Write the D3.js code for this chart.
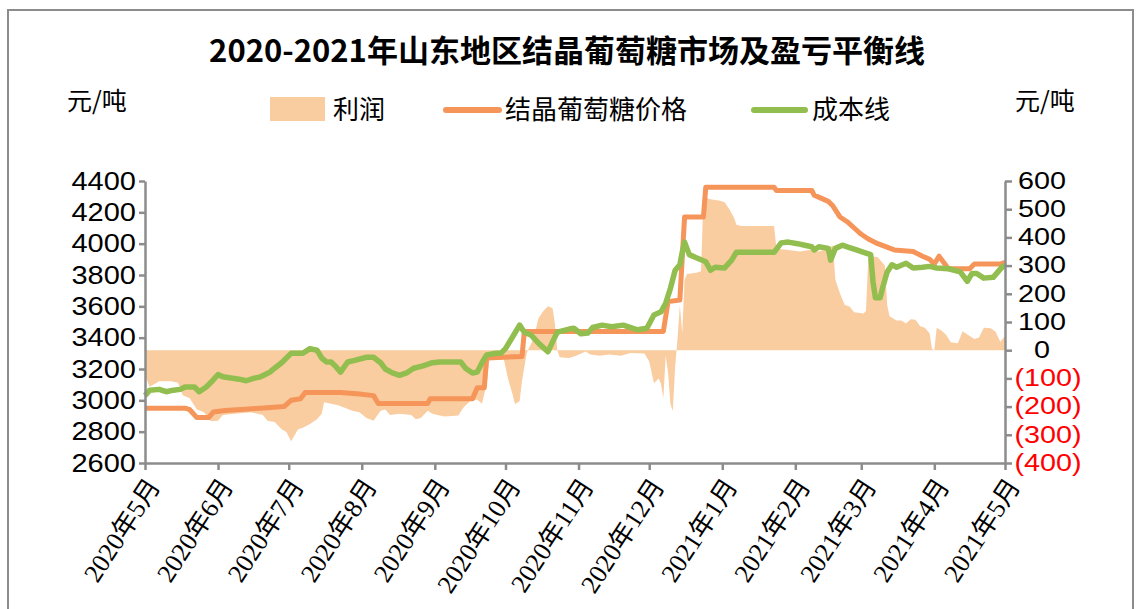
<!DOCTYPE html>
<html>
<head>
<meta charset="utf-8">
<script src="https://cdn.jsdelivr.net/npm/d3@7"></script>
<style>
  body { margin: 0; background: #fff; }
  svg { display: block; }
</style>
</head>
<body>
<svg id="canvas"></svg>
<script>
const canvas = d3.select('#canvas');
const width = 1140;
const height = 609;

const titleText = '2020-2021年山东地区结晶葡萄糖市场及盈亏平衡线';
const unitText = '元/吨';
const legendLabels = ['利润', '结晶葡萄糖价格', '成本线'];
const leftTicks = [2600, 2800, 3000, 3200, 3400, 3600, 3800, 4000, 4200, 4400];
const rightTicks = [-400, -300, -200, -100, 0, 100, 200, 300, 400, 500, 600];
const monthTicks = ['2020-05-01', '2020-06-01', '2020-07-01', '2020-08-01', '2020-09-01', '2020-10-01',
  '2020-11-01', '2020-12-01', '2021-01-01', '2021-02-01', '2021-03-01', '2021-04-01', '2021-05-01'];

// 结晶葡萄糖价格 (元/吨, left axis)
const price = [
  ['2020-05-01', 2950], ['2020-05-18', 2950], ['2020-05-20', 2940], ['2020-05-23', 2890], ['2020-05-28', 2890],
  ['2020-05-30', 2925], ['2020-06-04', 2935], ['2020-06-19', 2950], ['2020-06-29', 2960], ['2020-07-02', 3000],
  ['2020-07-06', 3010], ['2020-07-08', 3050], ['2020-07-23', 3050], ['2020-07-31', 3040], ['2020-08-06', 3030],
  ['2020-08-08', 2980], ['2020-08-29', 2980], ['2020-08-30', 3010], ['2020-09-17', 3010], ['2020-09-19', 3080],
  ['2020-09-22', 3080], ['2020-09-23', 3270], ['2020-10-08', 3280], ['2020-10-09', 3440], ['2020-12-07', 3440],
  ['2020-12-09', 3630], ['2020-12-14', 3640], ['2020-12-16', 4170], ['2020-12-24', 4170], ['2020-12-25', 4360],
  ['2021-01-23', 4360], ['2021-01-24', 4340], ['2021-02-08', 4340], ['2021-02-09', 4310], ['2021-02-15', 4270],
  ['2021-02-17', 4240], ['2021-02-20', 4170], ['2021-02-23', 4140], ['2021-02-26', 4100], ['2021-03-01', 4060],
  ['2021-03-04', 4030], ['2021-03-08', 4000], ['2021-03-15', 3960], ['2021-03-23', 3950], ['2021-03-27', 3920],
  ['2021-03-30', 3900], ['2021-04-01', 3870], ['2021-04-03', 3920], ['2021-04-05', 3880], ['2021-04-07', 3840],
  ['2021-04-16', 3840], ['2021-04-18', 3870], ['2021-04-29', 3870], ['2021-05-01', 3880]
];

// 成本线 (元/吨, left axis)
const cost = [
  ['2020-05-01', 3030], ['2020-05-03', 3065], ['2020-05-07', 3070], ['2020-05-10', 3055], ['2020-05-13', 3065],
  ['2020-05-16', 3070], ['2020-05-18', 3085], ['2020-05-22', 3085], ['2020-05-24', 3055], ['2020-05-27', 3085],
  ['2020-05-29', 3115], ['2020-06-01', 3165], ['2020-06-03', 3150], ['2020-06-10', 3135], ['2020-06-13', 3125],
  ['2020-06-16', 3140], ['2020-06-19', 3150], ['2020-06-21', 3165], ['2020-06-23', 3180], ['2020-06-25', 3205],
  ['2020-06-28', 3240], ['2020-07-02', 3300], ['2020-07-07', 3300], ['2020-07-10', 3330], ['2020-07-13', 3320],
  ['2020-07-15', 3270], ['2020-07-17', 3245], ['2020-07-19', 3245], ['2020-07-21', 3215], ['2020-07-23', 3180],
  ['2020-07-26', 3245], ['2020-07-29', 3255], ['2020-08-03', 3275], ['2020-08-06', 3275], ['2020-08-09', 3240],
  ['2020-08-11', 3200], ['2020-08-14', 3175], ['2020-08-17', 3160], ['2020-08-20', 3175], ['2020-08-23', 3205],
  ['2020-08-27', 3220], ['2020-08-31', 3240], ['2020-09-03', 3245], ['2020-09-12', 3245], ['2020-09-14', 3205],
  ['2020-09-17', 3175], ['2020-09-19', 3180], ['2020-09-21', 3240], ['2020-09-23', 3290], ['2020-09-27', 3300],
  ['2020-09-29', 3300], ['2020-10-01', 3330], ['2020-10-05', 3430], ['2020-10-07', 3480], ['2020-10-09', 3435],
  ['2020-10-12', 3415], ['2020-10-15', 3365], ['2020-10-19', 3310], ['2020-10-22', 3405], ['2020-10-23', 3435],
  ['2020-10-28', 3455], ['2020-10-30', 3460], ['2020-11-02', 3425], ['2020-11-05', 3430], ['2020-11-07', 3465],
  ['2020-11-11', 3480], ['2020-11-15', 3470], ['2020-11-20', 3480], ['2020-11-26', 3450], ['2020-11-30', 3460],
  ['2020-12-03', 3545], ['2020-12-06', 3565], ['2020-12-08', 3620], ['2020-12-10', 3715], ['2020-12-12', 3830],
  ['2020-12-14', 3865], ['2020-12-15', 3945], ['2020-12-16', 4010], ['2020-12-18', 3930], ['2020-12-21', 3910],
  ['2020-12-25', 3885], ['2020-12-27', 3830], ['2020-12-29', 3850], ['2021-01-02', 3845], ['2021-01-05', 3895],
  ['2021-01-07', 3945], ['2021-01-23', 3945], ['2021-01-26', 4005], ['2021-01-29', 4010], ['2021-02-02', 4000],
  ['2021-02-05', 3990], ['2021-02-08', 3980], ['2021-02-09', 3960], ['2021-02-11', 3980], ['2021-02-15', 3970],
  ['2021-02-16', 3895], ['2021-02-18', 3970], ['2021-02-21', 3990], ['2021-02-23', 3980], ['2021-02-26', 3965],
  ['2021-03-03', 3940], ['2021-03-05', 3930], ['2021-03-06', 3755], ['2021-03-07', 3655], ['2021-03-09', 3655],
  ['2021-03-10', 3715], ['2021-03-12', 3820], ['2021-03-14', 3865], ['2021-03-16', 3850], ['2021-03-20', 3875],
  ['2021-03-23', 3845], ['2021-03-27', 3850], ['2021-03-30', 3855], ['2021-04-02', 3845], ['2021-04-07', 3840],
  ['2021-04-12', 3820], ['2021-04-15', 3760], ['2021-04-17', 3810], ['2021-04-19', 3810], ['2021-04-22', 3780],
  ['2021-04-26', 3785], ['2021-04-28', 3820], ['2021-04-30', 3855], ['2021-05-01', 3850]
];

// 利润 (元/吨, right axis)
const profit = [
  ['2020-05-01', -90], ['2020-05-03', -130], ['2020-05-07', -110], ['2020-05-12', -110], ['2020-05-15', -115],
  ['2020-05-17', -160], ['2020-05-20', -170], ['2020-05-23', -210], ['2020-05-26', -220], ['2020-05-29', -252],
  ['2020-06-01', -250], ['2020-06-03', -230], ['2020-06-08', -225], ['2020-06-15', -220], ['2020-06-20', -230],
  ['2020-06-22', -250], ['2020-06-25', -255], ['2020-06-28', -280], ['2020-06-30', -290], ['2020-07-02', -323],
  ['2020-07-05', -280], ['2020-07-07', -275], ['2020-07-10', -262], ['2020-07-13', -245], ['2020-07-15', -225],
  ['2020-07-16', -185], ['2020-07-19', -190], ['2020-07-22', -195], ['2020-07-25', -205], ['2020-07-28', -215],
  ['2020-07-31', -220], ['2020-08-03', -240], ['2020-08-06', -250], ['2020-08-09', -215], ['2020-08-11', -210],
  ['2020-08-13', -230], ['2020-08-17', -225], ['2020-08-22', -230], ['2020-08-24', -245], ['2020-08-26', -240],
  ['2020-08-29', -215], ['2020-08-31', -225], ['2020-09-05', -235], ['2020-09-11', -232], ['2020-09-13', -205],
  ['2020-09-16', -180], ['2020-09-19', -175], ['2020-09-21', -190], ['2020-09-23', -120], ['2020-09-24', -40],
  ['2020-09-27', -5], ['2020-09-30', -20], ['2020-10-02', -99], ['2020-10-04', -156], ['2020-10-05', -191],
  ['2020-10-07', -181], ['2020-10-08', -110], ['2020-10-10', -10], ['2020-10-13', 43], ['2020-10-15', 113],
  ['2020-10-17', 138], ['2020-10-19', 156], ['2020-10-21', 149], ['2020-10-22', 92], ['2020-10-23', 0],
  ['2020-10-24', -25], ['2020-10-28', -28], ['2020-10-31', -20], ['2020-11-04', -5], ['2020-11-06', -15],
  ['2020-11-10', -20], ['2020-11-14', -15], ['2020-11-19', -20], ['2020-11-23', -10], ['2020-11-29', -12],
  ['2020-12-01', -40], ['2020-12-03', -117], ['2020-12-05', -100], ['2020-12-06', -120], ['2020-12-07', -170],
  ['2020-12-08', -20], ['2020-12-09', -80], ['2020-12-10', -190], ['2020-12-11', -216], ['2020-12-12', -60],
  ['2020-12-13', 40], ['2020-12-14', 160], ['2020-12-15', 60], ['2020-12-16', 250], ['2020-12-17', 270],
  ['2020-12-21', 275], ['2020-12-23', 280], ['2020-12-24', 542], ['2020-12-27', 535], ['2020-12-31', 530],
  ['2021-01-02', 525], ['2021-01-04', 500], ['2021-01-06', 470], ['2021-01-07', 445], ['2021-01-09', 440],
  ['2021-01-23', 440], ['2021-01-24', 360], ['2021-01-29', 355], ['2021-02-03', 350], ['2021-02-07', 355],
  ['2021-02-11', 350], ['2021-02-15', 360], ['2021-02-17', 372], ['2021-02-18', 250], ['2021-02-20', 200],
  ['2021-02-22', 160], ['2021-02-24', 155], ['2021-02-26', 135], ['2021-03-02', 130], ['2021-03-03', 140],
  ['2021-03-04', 335], ['2021-03-08', 330], ['2021-03-11', 300], ['2021-03-12', 160], ['2021-03-13', 120],
  ['2021-03-16', 105], ['2021-03-18', 105], ['2021-03-20', 95], ['2021-03-22', 110], ['2021-03-24', 108],
  ['2021-03-26', 85], ['2021-03-28', 80], ['2021-03-30', 60], ['2021-03-31', 5], ['2021-04-01', 0],
  ['2021-04-02', 80], ['2021-04-04', 70], ['2021-04-06', 55], ['2021-04-08', 28], ['2021-04-11', 25],
  ['2021-04-13', 67], ['2021-04-16', 50], ['2021-04-18', 40], ['2021-04-20', 45], ['2021-04-22', 80],
  ['2021-04-25', 78], ['2021-04-27', 65], ['2021-04-29', 30], ['2021-05-01', 50]
];

const parse = d3.timeParse('%Y-%m-%d');
const toPoints = (arr) => arr.map((d) => ({ date: parse(d[0]), v: d[1] }));

const colors = { profit: '#F9CDA0', price: '#F5955A', cost: '#92BE4F', axis: '#8C8C8C' };
const cjk = '"Noto Sans CJK SC", "Noto Sans", sans-serif';
const numFont = '"Liberation Sans", Arial, sans-serif';

canvas.attr('width', width).attr('height', height);

// outer frame
canvas.append('rect')
  .attr('x', 8).attr('y', 10)
  .attr('width', 1125).attr('height', 620)
  .attr('fill', '#fff')
  .attr('stroke', '#8C8C8C')
  .attr('stroke-width', 2);

// scales
const x = d3.scaleTime().domain([parse('2020-05-01'), parse('2021-05-01')]).range([145, 1005]);
const yLeft = d3.scaleLinear().domain([2600, 4400]).range([463, 181]);
const yRight = d3.scaleLinear().domain([-400, 600]).range([463, 181]);

// profit area
const area = d3.area()
  .x((d) => x(d.date))
  .y0(yRight(0))
  .y1((d) => yRight(d.v));

canvas.append('path')
  .datum(toPoints(profit))
  .attr('d', area)
  .attr('fill', colors.profit);

const line = d3.line()
  .x((d) => x(d.date))
  .y((d) => yLeft(d.v));

canvas.append('path')
  .datum(toPoints(price))
  .attr('d', line)
  .attr('fill', 'none')
  .attr('stroke', colors.price)
  .attr('stroke-width', 5)
  .attr('stroke-linejoin', 'round');

canvas.append('path')
  .datum(toPoints(cost))
  .attr('d', line)
  .attr('fill', 'none')
  .attr('stroke', colors.cost)
  .attr('stroke-width', 5.5)
  .attr('stroke-linejoin', 'round');

// axes
const styleAxis = (g) => {
  g.select('.domain').attr('stroke', colors.axis).attr('stroke-width', 2.5);
  g.selectAll('.tick line').attr('stroke', colors.axis).attr('stroke-width', 2.5);
  g.selectAll('.tick text').attr('fill', '#000');
};

const yLeftAxis = d3.axisLeft(yLeft).tickValues(leftTicks).tickSize(6).tickSizeOuter(0)
  .tickFormat(d3.format('d'));
canvas.append('g')
  .attr('transform', 'translate(145, 0)')
  .call(yLeftAxis)
  .call(styleAxis)
  .selectAll('text')
  .attr('x', 0)
  .attr('transform', 'translate(-9, 0) scale(1.16, 1)')
  .style('font-family', numFont)
  .style('font-size', '25px');

const yRightAxis = d3.axisRight(yRight).tickValues(rightTicks).tickSize(7).tickSizeOuter(0)
  .tickFormat((d) => (d < 0 ? `(${-d})` : `${d}`));
canvas.append('g')
  .attr('transform', 'translate(1005, 0)')
  .call(yRightAxis)
  .call(styleAxis)
  .selectAll('text')
  .attr('text-anchor', 'middle')
  .attr('x', 0)
  .attr('transform', (d) => `translate(${d < 0 ? 43 : 37}, 0) scale(1.25, 1)`)
  .attr('fill', (d) => (d < 0 ? '#FF0000' : '#000'))
  .style('font-family', numFont)
  .style('font-size', '23px');

const xAxis = d3.axisBottom(x).tickValues(monthTicks.map(parse)).tickSize(7).tickSizeOuter(0)
  .tickFormat(d3.timeFormat('%Y年%-m月'));
const xg = canvas.append('g')
  .attr('transform', 'translate(0, 463)')
  .call(xAxis)
  .call(styleAxis);
xg.selectAll('text')
  .attr('text-anchor', 'end')
  .attr('dy', '0.35em')
  .attr('transform', 'translate(8, 18) rotate(-57)')
  .attr('x', 0).attr('y', 0)
  .style('font-family', `"Liberation Serif", ${cjk}`)
  .style('font-size', '26px');

// title
canvas.append('text')
  .attr('x', 567).attr('y', 62)
  .attr('text-anchor', 'middle')
  .style('font-family', cjk)
  .style('font-weight', 'bold')
  .style('font-size', '31px')
  .text(titleText);

// units
[67, 1015].forEach((ux) => {
  canvas.append('text')
    .attr('x', ux).attr('y', 110)
    .style('font-family', cjk)
    .style('font-size', '25px')
    .text(unitText);
});

// legend
const legend = canvas.append('g').style('font-family', cjk).style('font-size', '26px');
legend.append('rect')
  .attr('x', 270).attr('y', 97).attr('width', 55).attr('height', 24)
  .attr('fill', colors.profit);
legend.append('text').attr('x', 333).attr('y', 119).text(legendLabels[0]);
legend.append('line')
  .attr('x1', 446).attr('x2', 499).attr('y1', 110).attr('y2', 110)
  .attr('stroke', colors.price).attr('stroke-width', 6).attr('stroke-linecap', 'round');
legend.append('text').attr('x', 505).attr('y', 119).text(legendLabels[1]);
legend.append('line')
  .attr('x1', 754).attr('x2', 805).attr('y1', 110).attr('y2', 110)
  .attr('stroke', colors.cost).attr('stroke-width', 6).attr('stroke-linecap', 'round');
legend.append('text').attr('x', 812).attr('y', 119).text(legendLabels[2]);
</script>
</body>
</html>
